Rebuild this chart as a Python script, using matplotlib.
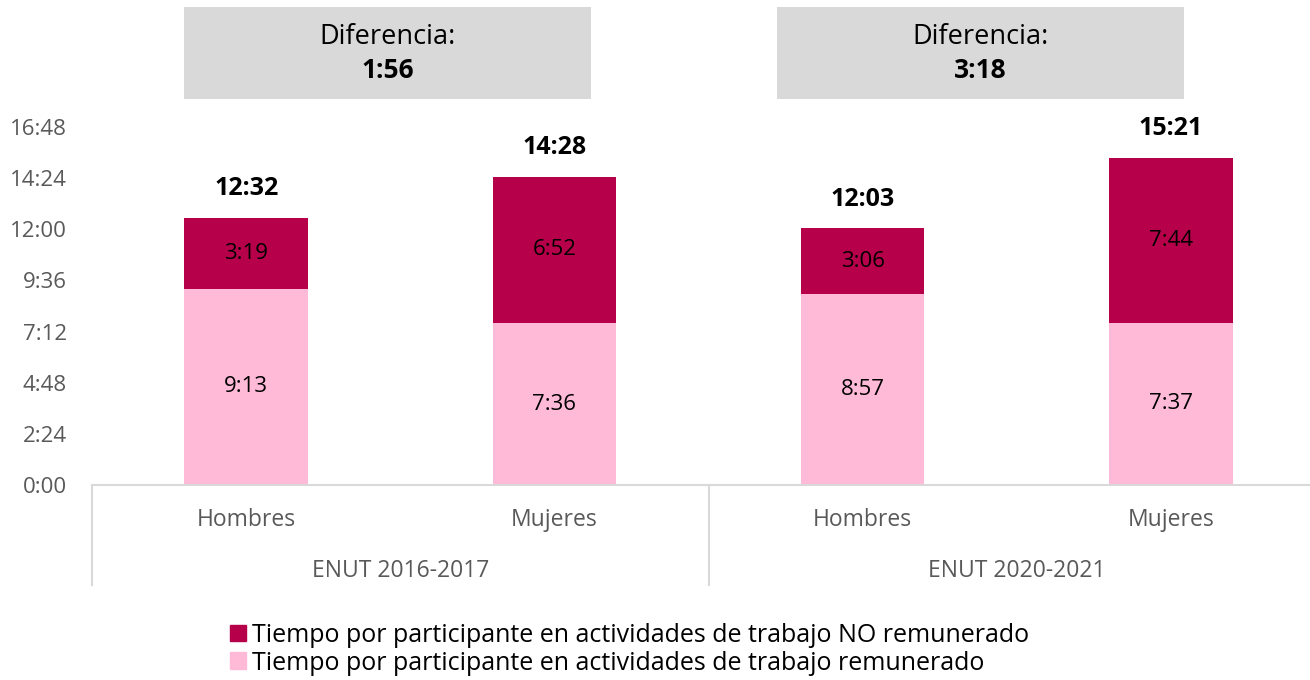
import matplotlib
matplotlib.use("Agg")
import matplotlib.pyplot as plt
from matplotlib.patches import Rectangle, Patch
from matplotlib.lines import Line2D
from matplotlib.ticker import FixedLocator, FuncFormatter

plt.rcParams['font.family'] = ['Open Sans', 'DejaVu Sans']

# minutes per participant
sexos = ["Hombres", "Mujeres", "Hombres", "Mujeres"]
encuestas = ["ENUT 2016-2017", "ENUT 2020-2021"]
remunerado = [553, 456, 537, 457]      # 9:13, 7:36, 8:57, 7:37
no_remunerado = [199, 412, 186, 464]   # 3:19, 6:52, 3:06, 7:44
diferencias = ["1:56", "3:18"]
y_ticks = [0, 144, 288, 432, 576, 720, 864, 1008]

c_no = "#B7004A"
c_rem = "#FFBAD8"
c_grid = "#D9D9D9"
c_txt = "#595959"


def hhmm(m, pos=None):
    m = int(round(m))
    return f"{m // 60}:{m % 60:02d}"


W, H = 1310, 680
fig = plt.figure(figsize=(W / 100, H / 100), dpi=100)
ax = fig.add_axes([92 / W, (H - 485) / H, (1325 - 92) / W, (485 - 127) / H])

x = list(range(len(sexos)))
ax.bar(x, remunerado, width=0.4, color=c_rem)
ax.bar(x, no_remunerado, width=0.4, bottom=remunerado, color=c_no)

for i in x:
    ax.text(i, remunerado[i] / 2, hhmm(remunerado[i]), ha="center", va="center",
            fontsize=16, color="black")
    ax.text(i, remunerado[i] + no_remunerado[i] / 2, hhmm(no_remunerado[i]),
            ha="center", va="center", fontsize=16, color="black")
    total = remunerado[i] + no_remunerado[i]
    ax.annotate(hhmm(total), (i, total), xytext=(0, 21), textcoords="offset points",
                ha="center", va="center", fontsize=18, fontweight="bold")

ax.set_xlim(-0.5, 3.5)
ax.set_ylim(0, 1008)
ax.yaxis.set_major_locator(FixedLocator(y_ticks))
ax.yaxis.set_major_formatter(FuncFormatter(hhmm))
ax.tick_params(axis="y", length=0, pad=18, labelsize=16, labelcolor=c_txt)
ax.set_xticks([])
for s in ["top", "right", "left"]:
    ax.spines[s].set_visible(False)
ax.spines["bottom"].set_color(c_grid)
ax.spines["bottom"].set_linewidth(1.5)

# two-level category axis
trans = ax.get_xaxis_transform()
depth = -(585 - 485) / (485 - 127)
for xs in [-0.5, 1.5, 3.5]:
    ax.add_line(Line2D([xs, xs], [0, depth], transform=trans, color=c_grid,
                       lw=1.5, clip_on=False))
for i, s in enumerate(sexos):
    ax.text(i, -(520 - 485) / (485 - 127), s, transform=trans, ha="center",
            va="center", fontsize=16.5, color=c_txt)
for g, e in enumerate(encuestas):
    ax.text(2 * g + 0.5, -(571 - 485) / (485 - 127), e, transform=trans,
            ha="center", va="center", fontsize=16.5, color=c_txt)

# difference boxes
for (x0, x1), d in zip([(184, 591), (777, 1184)], diferencias):
    fig.add_artist(Rectangle((x0 / W, (H - 99) / H), (x1 - x0) / W, 92 / H,
                             transform=fig.transFigure, color=c_grid, lw=0))
    cx = (x0 + x1) / 2 / W
    fig.text(cx, (H - 37) / H, "Diferencia:", ha="center", va="center", fontsize=19.5)
    fig.text(cx, (H - 71) / H, d, ha="center", va="center", fontsize=19,
             fontweight="bold")

handles = [Patch(color=c_no), Patch(color=c_rem)]
labels = ["Tiempo por participante en actividades de trabajo NO remunerado",
          "Tiempo por participante en actividades de trabajo remunerado"]
fig.legend(handles, labels, loc="upper left", bbox_to_anchor=(230 / W, (H - 623) / H),
           frameon=False, fontsize=18, handlelength=0.64, handleheight=0.64,
           handletextpad=0.25, labelspacing=0.1, borderpad=0, borderaxespad=0)

fig.savefig("out.png", dpi=100)
